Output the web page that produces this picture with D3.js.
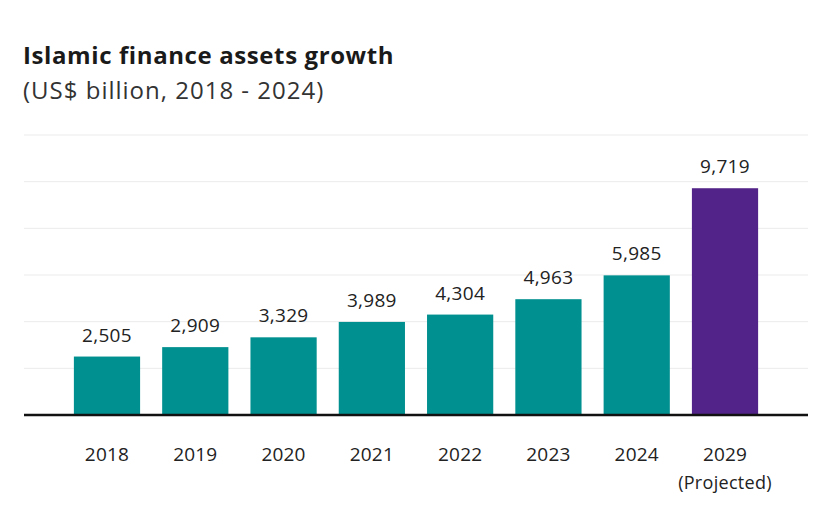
<!DOCTYPE html>
<html><head><meta charset="utf-8">
<script src="https://cdn.jsdelivr.net/npm/d3@7"></script>
<style>body{margin:0;background:#fff;} svg{display:block;font-family:"Open Sans",Lato,sans-serif;}</style>
</head><body>
<svg id="chart" width="830" height="515"></svg>
<script>
const categories = ["2018","2019","2020","2021","2022","2023","2024","2029"];
const subLabels = ["","","","","","","","(Projected)"];
const values = [2505, 2909, 3329, 3989, 4304, 4963, 5985, 9719];
const projected = [false,false,false,false,false,false,false,true];
const yTicks = [0, 2000, 4000, 6000, 8000, 10000, 12000];

const svg = d3.select("#chart");
const plotLeft = 24, plotRight = 808, plotTop = 135, plotBottom = 415;

svg.append("text").attr("x", 23).attr("y", 64)
  .attr("font-size", 24).attr("font-weight", 700).attr("fill", "#1a1a1a")
  .attr("letter-spacing", 0.6)
  .text("Islamic finance assets growth");
svg.append("text").attr("x", 23).attr("y", 99)
  .attr("font-size", 24).attr("fill", "#333")
  .attr("letter-spacing", 1)
  .text("(US$ billion, 2018 - 2024)");

const x = d3.scaleBand().domain(categories).range([plotLeft, plotRight])
  .paddingInner(0.25).paddingOuter(0.565);
const y = d3.scaleLinear().domain([0, 12000]).range([plotBottom, plotTop]);

svg.append("g").selectAll("line").data(yTicks.filter(d => d > 0)).join("line")
  .attr("x1", plotLeft).attr("x2", plotRight)
  .attr("y1", d => y(d)).attr("y2", d => y(d))
  .attr("stroke", "#ebebeb").attr("stroke-width", 1);

svg.append("g").selectAll("rect").data(values).join("rect")
  .attr("x", (d, i) => x(categories[i]))
  .attr("width", x.bandwidth())
  .attr("y", d => y(d))
  .attr("height", d => y(0) - y(d))
  .attr("fill", (d, i) => projected[i] ? "#52248A" : "#00908F");

svg.append("g").selectAll("text").data(values).join("text")
  .attr("x", (d, i) => x(categories[i]) + x.bandwidth() / 2)
  .attr("y", d => y(d) - 15)
  .attr("text-anchor", "middle").attr("font-size", 19).attr("fill", "#222")
  .attr("letter-spacing", 0.3)
  .text(d => d3.format(",")(d));

svg.append("line").attr("x1", plotLeft).attr("x2", plotRight)
  .attr("y1", y(0)).attr("y2", y(0))
  .attr("stroke", "#111").attr("stroke-width", 2.5);

const xa = svg.append("g");
xa.selectAll("text.yr").data(categories).join("text").attr("class", "yr")
  .attr("x", d => x(d) + x.bandwidth() / 2).attr("y", 461)
  .attr("text-anchor", "middle").attr("font-size", 19).attr("fill", "#222")
  .attr("letter-spacing", 0.2)
  .text(d => d);
xa.selectAll("text.sub").data(categories).join("text").attr("class", "sub")
  .attr("x", d => x(d) + x.bandwidth() / 2).attr("y", 489)
  .attr("text-anchor", "middle").attr("font-size", 18).attr("fill", "#222")
  .attr("letter-spacing", 0.3)
  .text((d, i) => subLabels[i]);
</script>
</body></html>
